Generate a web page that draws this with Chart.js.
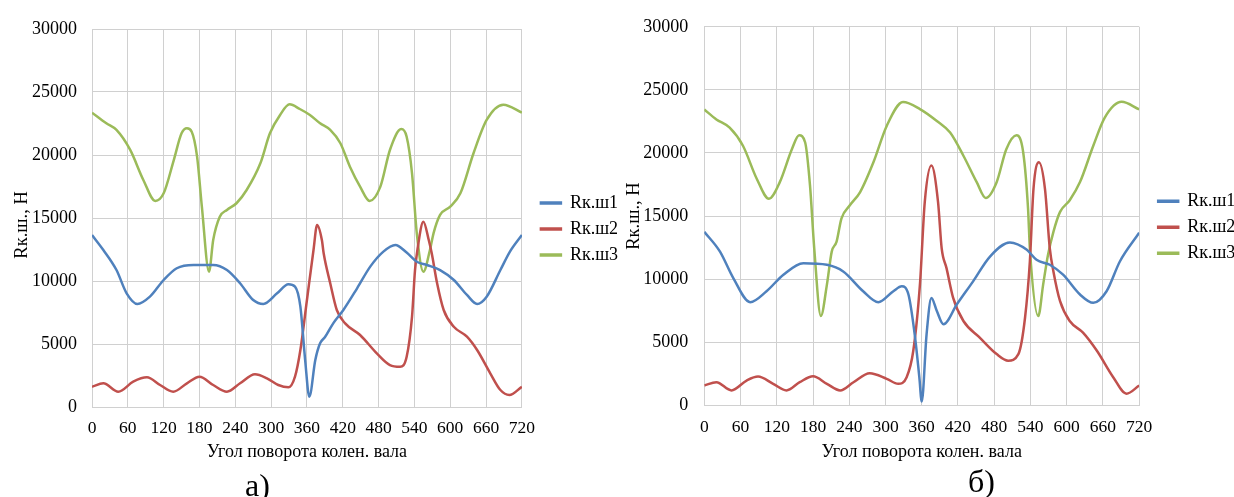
<!DOCTYPE html>
<html>
<head>
<meta charset="utf-8">
<script src="https://cdn.jsdelivr.net/npm/chart.js@4"></script>
<style>
  html, body { margin: 0; padding: 0; background: #fff; overflow: hidden; }
  body { width: 1234px; height: 497px; position: relative; }
  .wrap { position: absolute; top: 0; }
  .cap { position: absolute; font-family: 'Liberation Serif', serif; font-size: 32px; color: #000; line-height: 1; }
</style>
</head>
<body>
<div class="wrap" style="left:0px"><canvas id="chartA" width="640" height="470"></canvas></div>
<div class="wrap" style="left:612px"><canvas id="chartB" width="640" height="470"></canvas></div>
<div class="cap" style="left:245px; top:469px">а)</div>
<div class="cap" style="left:968px; top:465px">б)</div>
<script>
const seriesNames = ['Rк.ш1', 'Rк.ш2', 'Rк.ш3'];
const xTitle = 'Угол поворота колен. вала';
const yTitle = 'Rк.ш., Н';

// chart a)
const a1Angle = [0, 19, 41, 58, 76, 97, 120, 142, 170, 203, 226, 248, 270, 287, 310, 329, 340, 349, 357, 364, 374, 382, 390, 404, 421, 444, 466, 488, 508, 527, 544, 561, 583, 606, 628, 645, 661, 684, 700, 720];
const a1Value = [13650, 12460, 10870, 9020, 8175, 8755, 10080, 11010, 11270, 11270, 10870, 9820, 8490, 8175, 9020, 9740, 9550, 7960, 3730, 820, 3730, 5055, 5530, 6640, 7700, 9420, 11140, 12330, 12860, 12260, 11530, 11270, 10870, 10080, 8890, 8175, 8755, 10870, 12330, 13650];

const a2Angle = [0, 19, 44, 69, 92, 114, 136, 159, 180, 203, 226, 248, 273, 293, 312, 329, 340, 349, 360, 371, 377, 385, 388, 399, 410, 424, 449, 477, 499, 516, 527, 536, 541, 545, 555, 564, 569, 578, 589, 606, 628, 645, 667, 684, 699, 720];
const a2Value = [1610, 1880, 1215, 2010, 2355, 1745, 1215, 1880, 2405, 1745, 1215, 1880, 2595, 2275, 1745, 1560, 2405, 4520, 8490, 12460, 14450, 13250, 12200, 9820, 7700, 6640, 5715, 4260, 3330, 3200, 3990, 7170, 10870, 12460, 14710, 13250, 12200, 9820, 7700, 6370, 5580, 4520, 2675, 1350, 950, 1610];

const a3Angle = [0, 24, 41, 64, 86, 106, 120, 137, 150, 159, 167, 176, 184, 196, 203, 214, 226, 242, 259, 282, 298, 315, 331, 348, 365, 382, 399, 416, 432, 449, 465, 483, 499, 518, 527, 536, 544, 555, 566, 572, 583, 600, 617, 639, 661, 689, 720];
const a3Value = [23360, 22520, 21990, 20400, 18020, 16350, 16960, 19600, 21720, 22120, 21850, 19870, 15900, 10740, 13250, 15100, 15640, 16170, 17220, 19340, 21720, 23180, 24020, 23650, 23180, 22520, 21990, 20930, 19070, 17490, 16350, 17490, 20400, 22060, 21450, 18550, 13780, 10740, 12460, 13780, 15240, 15900, 16960, 20140, 22780, 23990, 23360];

// chart б)
const b1Angle = [0, 26, 48, 76, 103, 131, 164, 203, 230, 263, 288, 313, 327, 338, 349, 356, 360, 368, 376, 385, 396, 418, 445, 473, 506, 534, 550, 572, 594, 622, 644, 666, 688, 720];
const b1Value = [13755, 12180, 10085, 8175, 9040, 10350, 11265, 11140, 10610, 9040, 8175, 9040, 9430, 8780, 5370, 2225, 300, 5630, 8510, 7470, 6420, 7990, 9825, 11790, 12900, 12320, 11530, 11140, 10350, 8780, 8120, 9040, 11400, 13675];

const b2Angle = [0, 20, 45, 70, 89, 114, 136, 158, 180, 203, 225, 247, 274, 302, 321, 335, 346, 357, 365, 376, 387, 393, 401, 412, 429, 456, 484, 503, 520, 531, 539, 545, 554, 564, 572, 578, 589, 605, 627, 650, 677, 699, 720];
const b2Value = [1570, 1830, 1180, 1965, 2280, 1700, 1180, 1830, 2300, 1700, 1180, 1830, 2540, 2100, 1700, 2225, 4320, 9565, 16110, 19000, 16110, 12440, 10870, 8510, 6680, 5370, 4060, 3540, 4060, 6940, 11400, 17160, 19260, 17160, 12440, 10610, 8250, 6680, 5760, 4320, 2225, 920, 1570];

const b3Angle = [0, 20, 42, 64, 87, 107, 125, 145, 157, 167, 175, 182, 193, 203, 211, 219, 227, 241, 258, 280, 302, 329, 357, 385, 407, 429, 451, 466, 484, 500, 517, 528, 536, 539, 553, 561, 569, 578, 589, 605, 622, 644, 663, 691, 720];
const b3Value = [23445, 22660, 22000, 20570, 17940, 16370, 17690, 20300, 21400, 20830, 17425, 12440, 7075, 9565, 12180, 12970, 14800, 15850, 16900, 19260, 22140, 24030, 23480, 22535, 21615, 19780, 17685, 16430, 17685, 20300, 21400, 20040, 15590, 12440, 7075, 9565, 11920, 13750, 15330, 16250, 17690, 20570, 22800, 24050, 23450];

const colors = ['#4F81BD', '#C0504D', '#9BBB59'];
const gridColor = '#d0d0d0';
const serif = "'Liberation Serif', serif";

function pts(xs, ys) {
    return xs.map((x, i) => ({ x: x, y: ys[i] }));
}

function makeChart(id, series, g) {
    return new Chart(document.getElementById(id), {
        type: 'line',
        data: {
            datasets: series.map((d, i) => ({
                label: seriesNames[i],
                data: d,
                borderColor: colors[i],
                backgroundColor: colors[i],
                borderWidth: 2.5,
                pointRadius: 0,
                cubicInterpolationMode: 'monotone',
                fill: false
            }))
        },
        options: {
            responsive: false,
            animation: false,
            layout: { padding: { top: g.top, right: g.right, bottom: 0, left: 0 } },
            plugins: {
                legend: {
                    position: 'right',
                    fullSize: false,
                    // empty title only pushes the items down a little
                    title: { display: true, text: '', padding: 0, font: { size: g.legendShift, lineHeight: 1 } },
                    labels: { boxWidth: 20, boxHeight: 1, padding: 8, color: '#000', font: { family: serif, size: 18 } }
                },
                tooltip: { enabled: false }
            },
            scales: {
                x: {
                    type: 'linear', min: 0, max: 720,
                    ticks: { stepSize: 60, padding: g.xTickPad, color: '#000', font: { family: serif, size: 17.5 }, maxRotation: 0, autoSkip: false },
                    grid: { color: gridColor, drawTicks: false },
                    border: { color: gridColor },
                    title: { display: true, text: xTitle, color: '#000', font: { family: serif, size: 18 }, padding: { top: 0, bottom: g.xTitlePad } },
                    afterFit: s => { s.height = g.xAxisH; }
                },
                y: {
                    min: 0, max: 30000,
                    ticks: { stepSize: 5000, padding: g.yTickPad, color: '#000', font: { family: serif, size: 18 }, callback: v => String(v) },
                    grid: { color: gridColor, drawTicks: false },
                    border: { color: gridColor },
                    title: { display: true, text: yTitle + g.yTitleTail, color: '#000', font: { family: serif, size: 18.5 }, padding: { top: g.yTitlePad, bottom: 0 } },
                    afterFit: s => { s.width = g.yAxisW; }
                },
                gap: {
                    type: 'linear', axis: 'y', position: 'right', display: true,
                    ticks: { display: false }, grid: { display: false }, border: { display: false },
                    afterFit: s => { s.width = g.gap; }
                }
            }
        }
    });
}

makeChart('chartA', [pts(a1Angle, a1Value), pts(a2Angle, a2Value), pts(a3Angle, a3Value)], {
    top: 29, right: 12, yAxisW: 92, yTickPad: 15, yTitlePad: 11, yTitleTail: '\u00a0\u00a0\u00a0',
    xAxisH: 63, xTickPad: 11, xTitlePad: 6.5, gap: 11, legendShift: 22
});

makeChart('chartB', [pts(b1Angle, b1Value), pts(b2Angle, b2Value), pts(b3Angle, b3Value)], {
    top: 23.3, right: 6.7, yAxisW: 92.3, yTickPad: 16, yTitlePad: 11, yTitleTail: '',
    xAxisH: 64.7, xTickPad: 12, xTitlePad: 7, gap: 11, legendShift: 22.5
});
</script>
</body>
</html>
